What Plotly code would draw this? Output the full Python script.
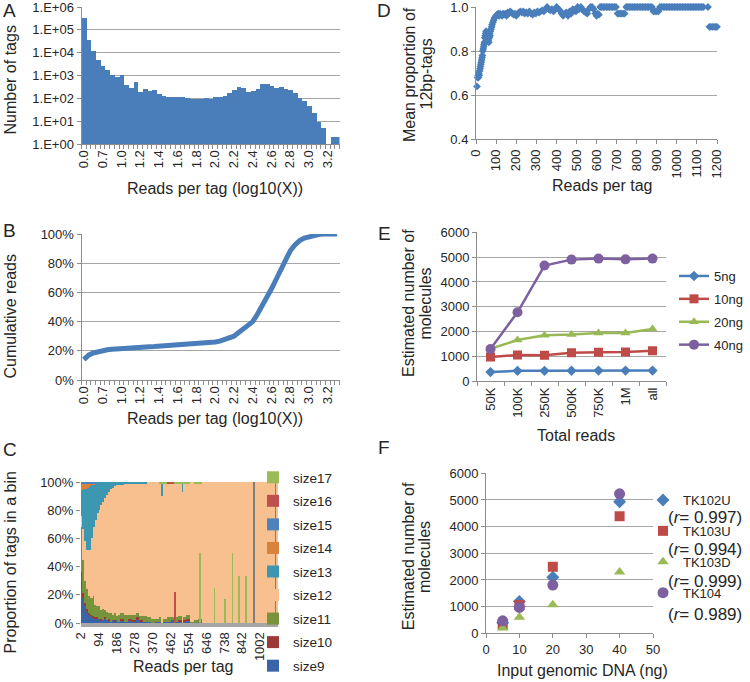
import plotly.graph_objects as go

FONT = "Liberation Sans, Arial, sans-serif"
TXT = "#262626"
GRID = "#a6a6a6"
AXIS = "#8c8c8c"
W, H = 750, 682

# ---------------- Panel A: histogram (log10 reads per tag) ----------------
a_ticktext = ["0.0", "0.7", "1.0", "1.2", "1.4", "1.6", "1.8", "2.0", "2.2", "2.4",
              "2.6", "2.8", "3.0", "3.2"]
a_counts = [320000, 37000, 11500, 5000, 2700, 1700, 1100, 870, 1100, 370,
            290, 500, 190, 265, 210, 240, 150, 125, 115, 120,
            115, 113, 100, 98, 98, 95, 105, 98, 113, 115,
            125, 180, 240, 325, 270, 195, 215, 265, 420, 420,
            330, 290, 320, 255, 225, 165, 108, 74, 47, 23,
            9.3, 4.8, None, 1.95, 2]

# ---------------- Panel B: cumulative reads ----------------
b_cum = [0.14, 0.17, 0.185, 0.195, 0.202, 0.207, 0.211, 0.214, 0.217, 0.219,
         0.221, 0.223, 0.225, 0.227, 0.228, 0.229, 0.231, 0.232, 0.234, 0.235,
         0.237, 0.239, 0.241, 0.243, 0.245, 0.248, 0.251, 0.255, 0.26, 0.266,
         0.275, 0.287, 0.30, 0.325, 0.35, 0.372, 0.40, 0.45, 0.505, 0.565,
         0.625, 0.69, 0.76, 0.83, 0.885, 0.925, 0.955, 0.972, 0.982, 0.99,
         0.996, 1.0, 1.0, 1.0, 1.0]

# ---------------- Panel C: stacked proportions by tag size ----------------
c_ticktext = ["2", "94", "186", "278", "370", "462", "554", "646", "738", "842", "1002"]
c_tick_index = [0, 92, 184, 276, 368, 460, 552, 644, 736, 828, 920]
# bins in category-index units (centre, width)
c_bin_x = [5, 15, 25, 35, 45, 55, 65, 75, 85, 95, 105, 115, 125, 135, 145, 155, 165, 175, 185, 195,
           210, 230, 250, 270, 290, 310, 330, 350, 370, 390,
           410, 430, 450, 470, 490, 510, 530, 550, 570, 590, 610,
           816,
           415, 483, 522, 611, 685, 740, 779, 812, 848]
c_bin_w = [10] * 20 + [20] * 21 + [392] + [3] * 9
c_size9 = [33, 18, 12, 8, 6, 5, 4, 3, 3, 3, 2, 2, 3, 2, 2, 1, 2, 1, 2, 1,
           2, 1, 2, 1, 2, 1, 1, 1, 0, 1,
           1, 1, 1, 2, 1, 1, 1, 2, 0, 0, 1,
           0,
           0, 0, 0, 0, 0, 0, 0, 0, 0]
c_size10 = [3, 3, 2, 2, 1, 1, 1, 1, 1, 0, 1, 0, 1, 0, 1, 0, 0, 1, 0, 0,
            1, 0, 1, 1, 2, 1, 0, 0, 0, 0,
            0, 0, 0, 0, 0, 1, 1, 1, 0, 0, 0,
            0,
            0, 0, 0, 0, 0, 0, 0, 0, 0]
c_size11 = [32, 24, 16, 14, 12, 12, 14, 9, 8, 9, 6, 8, 5, 6, 4, 6, 4, 5, 3, 5,
            4, 5, 3, 4, 3, 3, 4, 3, 3, 2,
            3, 2, 3, 2, 3, 3, 2, 3, 1, 2, 2,
            0,
            0, 0, 0, 0, 0, 0, 0, 0, 0]
c_size12 = [8, 22, 28, 28, 33, 42, 49, 60, 66, 68, 75, 76, 80, 83, 86, 88, 90, 90, 93, 92,
            91, 93, 93, 93, 92, 94, 94, 96, 97, 97,
            95, 96, 95, 95, 95, 94, 95, 93, 99, 97, 96,
            100,
            90, 0, 93, 0, 0, 0, 0, 0, 0]
c_size13 = [18, 28, 37, 44, 45, 38, 30, 26, 22, 20, 16, 14, 11, 9, 7, 5, 4, 3, 2, 2,
            2, 1, 1, 1, 1, 1, 1, 0, 0, 0,
            0, 0, 0, 0, 0, 0, 0, 0, 0, 0, 0,
            0,
            10, 0, 7, 0, 0, 0, 0, 0, 0]
c_size14 = [5, 4, 4, 3, 2, 1, 1, 0, 0, 0, 0, 0, 0, 0, 0, 0, 0, 0, 0, 0,
            0, 0, 0, 0, 0, 0, 0, 0, 0, 0,
            0, 0, 0, 0, 0, 0, 0, 0, 0, 0, 0,
            0,
            0, 0, 0, 0, 0, 0, 0, 0, 0]
c_size15 = [1, 1, 1, 1, 1, 1, 1, 1, 0, 0, 0, 0, 0, 0, 0, 0, 0, 0, 0, 0,
            0, 0, 0, 0, 0, 0, 0, 0, 0, 0,
            0, 0, 0, 0, 0, 0, 0, 0, 0, 0, 0,
            0,
            0, 0, 0, 0, 0, 0, 0, 0, 0]
c_size16 = [0, 0, 0, 0, 0, 0, 0, 0, 0, 0, 0, 0, 0, 0, 0, 0, 0, 0, 0, 0,
            0, 0, 0, 0, 0, 0, 0, 0, 0, 0,
            0, 0, 1, 1, 0, 0, 0, 0, 0, 0, 0,
            0,
            0, 22, 0, 0, 0, 0, 0, 0, 0]
c_size17 = [0, 0, 0, 0, 0, 0, 0, 0, 0, 0, 0, 0, 0, 0, 0, 0, 0, 0, 0, 0,
            0, 0, 0, 0, 0, 0, 0, 0, 0, 0,
            1, 1, 0, 0, 1, 1, 1, 1, 0, 1, 1,
            0,
            0, 0, 0, 50, 25, 17, 50, 33, 33]
c_dark_lines_x = [889, 999]
c_dark_lines_y = [100, 100]

# ---------------- Panel D: mean proportion of 12bp tags ----------------
d_x_rise = [5, 8, 10, 12, 14, 16, 18, 20, 22, 24, 26, 28, 30, 32, 34, 36, 38, 40, 42, 44,
            46, 48, 50, 52, 54, 56, 58, 60, 62, 64, 66, 68, 70, 72, 75, 78, 80, 84, 88, 92,
            96, 100, 105, 110, 115, 120, 125]
d_y_rise = [0.64, 0.68, 0.69, 0.68, 0.70, 0.69, 0.71, 0.72, 0.73, 0.74, 0.75, 0.76, 0.77, 0.78, 0.80, 0.81, 0.82, 0.83, 0.84, 0.86,
            0.87, 0.88, 0.89, 0.88, 0.87, 0.85, 0.86, 0.87, 0.85, 0.84, 0.86, 0.88, 0.87, 0.89, 0.90, 0.91, 0.92, 0.93, 0.94, 0.95,
            0.955, 0.96, 0.965, 0.97, 0.96, 0.97, 0.965]
d_x_plateau = [130, 135, 140, 146, 152, 158, 164, 170, 176, 182, 188, 194, 200, 207, 214, 221, 228, 235, 242, 250,
               258, 266, 274, 282, 290, 298, 306, 314, 322, 330, 338, 346, 354, 362, 370, 378, 386, 394, 402, 410,
               418, 426, 434, 442, 450, 458, 466, 474, 482, 490, 498, 506, 514, 522, 530, 538, 546, 554, 562, 570,
               578, 586, 594, 600, 606, 612, 618]
d_y_plateau = [0.96, 0.97, 0.965, 0.97, 0.96, 0.975, 0.97, 0.98, 0.975, 0.97, 0.965, 0.97, 0.96, 0.97, 0.975, 0.98, 0.975, 0.98, 0.97, 0.975,
               0.97, 0.98, 0.97, 0.965, 0.975, 0.97, 0.98, 0.975, 0.98, 0.985, 0.98, 0.99, 1.0, 0.99, 0.985, 0.99, 0.98, 0.99, 1.0, 0.99,
               0.985, 0.97, 0.96, 0.97, 0.975, 0.96, 0.98, 0.97, 0.99, 0.985, 0.98, 1.0, 0.99, 1.0, 0.99, 0.98, 0.975, 0.97, 0.99, 1.0,
               1.0, 0.99, 0.97, 0.96, 0.97, 0.965, 1.0]
d_x_tail = [625, 633, 641, 649, 657, 665, 673, 681, 689, 697,
            705, 712, 719, 726, 733, 740,
            748, 756, 764, 772, 780, 788, 796, 804, 812, 820, 828, 836, 844, 852, 860, 868, 876,
            884, 892, 900, 908,
            916, 924, 932, 940, 948, 956, 964, 972, 980, 988, 996, 1004, 1012, 1020, 1028, 1036, 1044, 1052,
            1060, 1068, 1076, 1084, 1092, 1100, 1108, 1116, 1124, 1132,
            1155,
            1162, 1170, 1178, 1186, 1194, 1200]
d_y_tail = [1.0, 1.0, 1.0, 1.0, 1.0, 1.0, 1.0, 1.0, 1.0, 1.0,
            0.97, 0.97, 0.97, 0.97, 0.97, 0.97,
            1.0, 1.0, 1.0, 1.0, 1.0, 1.0, 1.0, 1.0, 1.0, 1.0, 1.0, 1.0, 1.0, 1.0, 1.0, 1.0, 1.0,
            0.98, 0.98, 0.98, 0.98,
            1.0, 1.0, 1.0, 1.0, 1.0, 1.0, 1.0, 1.0, 1.0, 1.0, 1.0, 1.0, 1.0, 1.0, 1.0, 1.0, 1.0, 1.0,
            1.0, 1.0, 1.0, 1.0, 1.0, 1.0, 1.0, 1.0, 1.0, 1.0,
            1.0,
            0.91, 0.91, 0.91, 0.91, 0.91, 0.91]

# ---------------- Panel E: estimated molecules vs total reads ----------------
e_cats = ["50K", "100K", "250K", "500K", "750K", "1M", "all"]
e_5ng = [370, 420, 420, 425, 430, 430, 430]
e_10ng = [980, 1060, 1050, 1150, 1170, 1180, 1230]
e_20ng = [1310, 1660, 1850, 1880, 1950, 1950, 2110]
e_40ng = [1300, 2780, 4660, 4900, 4940, 4910, 4940]

# ---------------- Panel F: molecules vs input DNA ----------------
f_dna = [5, 10, 20, 40]
f_tk102u = [400, 1190, 2100, 4930]
f_tk103u = [320, 1060, 2500, 4390]
f_tk103d = [200, 600, 1070, 2300]
f_tk104 = [470, 970, 1810, 5230]
f_r = ["0.997", "0.994", "0.999", "0.989"]


def X(px):
    return px / W


def Y(py):
    return 1 - py / H


fig = go.Figure()

tickfont = dict(family=FONT, size=13, color=TXT)


def axis(**kw):
    d = dict(showline=True, linecolor=AXIS, linewidth=1, gridcolor=GRID, gridwidth=1,
             tickfont=tickfont, zeroline=False, ticks="outside", ticklen=4, tickcolor=AXIS,
             showgrid=False, automargin=False, ticklabeloverflow="allow")
    d.update(kw)
    return d


idx = list(range(len(a_counts)))
a_tickvals = [i * 4 for i in range(len(a_ticktext))]

# A
fig.add_trace(go.Bar(x=idx, y=a_counts, marker=dict(color="#4a7ebb", line=dict(width=0)),
                     width=1.0, xaxis="x", yaxis="y", showlegend=False))
# B
fig.add_trace(go.Scatter(x=idx, y=b_cum, mode="lines", line=dict(color="#4a7ebb", width=5),
                         xaxis="x2", yaxis="y2", showlegend=False))

# C
c_series = [("size9", c_size9, "#3a64a8"), ("size10", c_size10, "#9c3a38"),
            ("size11", c_size11, "#77933c"), ("size12", c_size12, "#f9c08f"),
            ("size13", c_size13, "#3d97b1"), ("size14", c_size14, "#d9823d"),
            ("size15", c_size15, "#4f81bd"), ("size16", c_size16, "#c0504d"),
            ("size17", c_size17, "#9bbb59")]
for k, (name, vals, col) in enumerate(c_series):
    fig.add_trace(go.Bar(x=c_bin_x, y=vals, width=c_bin_w, name=name,
                         marker=dict(color=col, line=dict(width=0)),
                         xaxis="x3", yaxis="y3", legend="legend", legendgroup=name,
                         legendrank=100 - k))
fig.add_trace(go.Bar(x=c_dark_lines_x, y=c_dark_lines_y, width=[4, 4],
                     marker=dict(color="#7f7f7f", line=dict(width=0)),
                     xaxis="x3", yaxis="y3", showlegend=False))

# D
fig.add_trace(go.Scatter(x=d_x_rise + d_x_plateau + d_x_tail, y=d_y_rise + d_y_plateau + d_y_tail,
                         mode="markers", marker=dict(symbol="diamond", size=6, color="#4a7ebb"),
                         xaxis="x4", yaxis="y4", showlegend=False, cliponaxis=False))

# E
e_series = [("5ng", e_5ng, "#4a7ebb", "diamond", 8), ("10ng", e_10ng, "#be4b48", "square", 9),
            ("20ng", e_20ng, "#98b954", "triangle-up", 9), ("40ng", e_40ng, "#7d60a0", "circle", 10)]
for name, vals, col, sym, sz in e_series:
    fig.add_trace(go.Scatter(x=e_cats, y=vals, name=name, mode="lines+markers",
                             line=dict(color=col, width=2.5),
                             marker=dict(symbol=sym, size=sz, color=col),
                             xaxis="x5", yaxis="y5", legend="legend2", legendgroup="e" + name))

# F
f_series = [("TK102U", f_tk102u, "#4a7ebb", "diamond", 10), ("TK103U", f_tk103u, "#be4b48", "square", 10),
            ("TK103D", f_tk103d, "#98b954", "triangle-up", 10), ("TK104", f_tk104, "#7d60a0", "circle", 11)]
for name, vals, col, sym, sz in f_series:
    fig.add_trace(go.Scatter(x=f_dna, y=vals, name=name, mode="markers",
                             marker=dict(symbol=sym, size=sz, color=col),
                             xaxis="x6", yaxis="y6", legend="legend3", legendgroup="f" + name))

layout = dict(
    width=W, height=H, margin=dict(l=0, r=0, t=0, b=0, autoexpand=False),
    paper_bgcolor="white", plot_bgcolor="white",
    font=dict(family=FONT, color=TXT, size=13),
    barmode="stack", bargap=0,
    # A
    xaxis=axis(domain=[X(81.5), X(339.5)], anchor="y", range=[-0.5, 54.5],
               tickmode="array", tickvals=a_tickvals, ticktext=a_ticktext, tickangle=-90, ticks="",
               minor=dict(ticks="outside", ticklen=4, tickcolor=AXIS, tickmode="linear",
                          tick0=-0.5, dtick=1, showgrid=False)),
    yaxis=axis(domain=[Y(144), Y(7)], anchor="x", type="log", range=[0, 6],
               tickmode="array", tickvals=[1, 10, 100, 1000, 1e4, 1e5, 1e6],
               ticktext=["1.E+00", "1.E+01", "1.E+02", "1.E+03", "1.E+04", "1.E+05", "1.E+06"],
               showgrid=True),
    # B
    xaxis2=axis(domain=[X(81.5), X(339.5)], anchor="y2", range=[-0.5, 54.5],
                tickmode="array", tickvals=a_tickvals, ticktext=a_ticktext, tickangle=-90, ticks="",
                minor=dict(ticks="outside", ticklen=4, tickcolor=AXIS, tickmode="linear",
                           tick0=-0.5, dtick=1, showgrid=False)),
    yaxis2=axis(domain=[Y(380), Y(234)], anchor="x2", range=[0, 1],
                tickmode="array", tickvals=[0, 0.2, 0.4, 0.6, 0.8, 1.0],
                ticktext=["0%", "20%", "40%", "60%", "80%", "100%"], showgrid=True),
    # C
    xaxis3=axis(domain=[X(81), X(278)], anchor="y3", range=[0, 1012],
                tickmode="array", tickvals=[i + 0.5 for i in c_tick_index], ticktext=c_ticktext,
                tickangle=-90, ticks="", linecolor="#a6a6a6", linewidth=4),
    yaxis3=axis(domain=[Y(623), Y(482)], anchor="x3", range=[0, 100],
                tickmode="array", tickvals=[0, 20, 40, 60, 80, 100],
                ticktext=["0%", "20%", "40%", "60%", "80%", "100%"], showgrid=True, showline=False),
    # D
    xaxis4=axis(domain=[X(476), X(717)], anchor="y4", range=[0, 1200], dtick=100, tick0=0,
                tickangle=-90),
    yaxis4=axis(domain=[Y(139.3), Y(7)], anchor="x4", range=[0.4, 1.0], dtick=0.2, tick0=0.4,
                tickformat=".1f", showgrid=True),
    # E
    xaxis5=axis(domain=[X(477), X(666)], anchor="y5", type="category", range=[-0.5, 6.5],
                tickson="boundaries", tickangle=-90),
    yaxis5=axis(domain=[Y(381.3), Y(232.3)], anchor="x5", range=[0, 6000], dtick=1000,
                showgrid=True),
    # F
    xaxis6=axis(domain=[X(486), X(653)], anchor="y6", range=[0, 50], dtick=10),
    yaxis6=axis(domain=[Y(633.3), Y(473.3)], anchor="x6", range=[0, 6000], dtick=1000,
                showgrid=True),
    legend=dict(x=X(253), y=Y(681), xanchor="left", yanchor="bottom", font=dict(size=13.5, color=TXT),
                traceorder="grouped", tracegroupgap=3, bgcolor="rgba(0,0,0,0)"),
    legend2=dict(x=X(674), y=Y(261), xanchor="left", yanchor="top", font=dict(size=13, color=TXT),
                 traceorder="grouped", tracegroupgap=3, bgcolor="rgba(0,0,0,0)"),
    legend3=dict(x=X(643), y=Y(485), xanchor="left", yanchor="top", font=dict(size=13, color=TXT),
                 traceorder="grouped", tracegroupgap=11, bgcolor="rgba(0,0,0,0)"),
)
fig.update_layout(**layout)

ann = []


def txt(x, y, s, size=16, angle=0, xanchor="center"):
    ann.append(dict(x=X(x), y=Y(y), xref="paper", yref="paper", text=s, showarrow=False,
                    textangle=angle, xanchor=xanchor, yanchor="middle",
                    font=dict(family=FONT, size=size, color=TXT)))


# panel letters
for letter, px, py in [("A", 9, 11), ("B", 9, 231), ("C", 10, 449),
                       ("D", 384, 11), ("E", 384, 234), ("F", 384, 447)]:
    txt(px, py, letter, size=19)

# axis titles
txt(9.5, 80, "Number of tags", angle=-90)
txt(215, 189, "Reads per tag (log10(X))")
txt(9.5, 316, "Cumulative reads", angle=-90)
txt(215, 418, "Reads per tag (log10(X))")
txt(9.5, 563, "Proportion of tags in a bin", angle=-90)
txt(183, 666, "Reads per tag")
txt(409, 75, "Mean proportion of", angle=-90)
txt(425.5, 74, "12bp-tags", angle=-90)
txt(602, 185, "Reads per tag")
txt(408.5, 303.5, "Estimated number of", angle=-90)
txt(424.5, 303, "molecules", angle=-90)
txt(576, 435, "Total reads")
txt(408.5, 556.7, "Estimated number of", angle=-90)
txt(424.5, 556.5, "molecules", angle=-90)
txt(582, 670, "Input genomic DNA (ng)")

# r values in panel F legend
for r, py in zip(f_r, [517, 549, 581, 614]):
    txt(666, py, "(<i>r</i>= " + r + ")", size=17, xanchor="left")

fig.update_layout(annotations=ann)
fig.write_html("out.html", config={"displayModeBar": False},
               post_script="document.body.style.margin='0';document.body.style.padding='0';")
